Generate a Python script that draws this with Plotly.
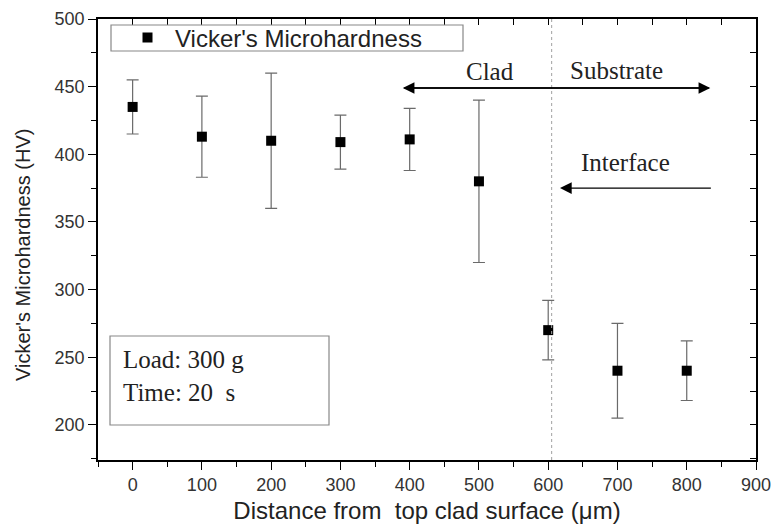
import plotly.graph_objects as go

distance = [0, 100, 200, 300, 400, 500, 600, 700, 800]
hardness = [435, 413, 410, 409, 411, 380, 270, 240, 240]
err_up = [20, 30, 50, 20, 23, 60, 22, 35, 22]
err_down = [20, 30, 50, 20, 23, 60, 22, 35, 22]
interface_x = 605
x_range = [-50, 900]
y_range = [174, 500]

L, R, T, B = 98, 16, 19, 64
W, H = 772, 524
PW, PH = W - L - R, H - T - B


def px(xp):
    return (xp - L) / PW


def py(yp):
    return (H - B - yp) / PH


fig = go.Figure()
fig.add_trace(go.Scatter(
    x=distance, y=hardness, mode="markers", name="Vicker's Microhardness",
    marker=dict(symbol="square", size=10, color="black"),
    error_y=dict(type="data", symmetric=False, array=err_up, arrayminus=err_down,
                 color="#6a6a6a", thickness=1.2, width=6),
))
# invisible trace to host the mirrored (inside-tick) top/right axes
fig.add_trace(go.Scatter(x=distance, y=hardness, xaxis="x2", yaxis="y2", mode="markers",
                         marker=dict(opacity=0), showlegend=False, hoverinfo="skip"))

fig.add_shape(type="line", x0=interface_x, x1=interface_x, y0=0, y1=1, yref="paper",
              line=dict(color="#a0a0a0", width=1, dash="dot"))

serif = dict(family="Liberation Serif", size=25, color="#222")
arrow = dict(showarrow=True, arrowhead=2, arrowsize=1.8, arrowwidth=1.3, arrowcolor="black",
             text="", xref="x", yref="y", axref="x", ayref="y")
# double arrow Clad / Substrate
fig.add_annotation(x=390, y=449, ax=834, ay=449, **arrow)
fig.add_annotation(x=834, y=449, ax=390, ay=449, **arrow)
fig.add_annotation(x=516, y=461, text="Clad", showarrow=False, font=serif)
fig.add_annotation(x=699, y=462, text="Substrate", showarrow=False, font=serif)
# interface arrow
fig.add_annotation(x=617, y=375, ax=837, ay=375, **arrow)
fig.add_annotation(x=711, y=394, text="Interface", showarrow=False, font=serif)

# Load/Time box
fig.add_shape(type="rect", xref="paper", yref="paper",
              x0=px(110), x1=px(329), y0=py(425), y1=py(336),
              line=dict(color="#888888", width=1.2), fillcolor="rgba(0,0,0,0)")
fig.add_annotation(xref="paper", yref="paper", x=px(121), y=py(376),
                   xanchor="left", yanchor="middle", align="left", showarrow=False,
                   text="Load: 300 g<br>Time: 20  s", font=serif)

# legend frame
fig.add_shape(type="rect", xref="paper", yref="paper",
              x0=px(111), x1=px(463), y0=py(51), y1=py(25),
              line=dict(color="#888888", width=1.2), fillcolor="rgba(0,0,0,0)")

sans = "Liberation Sans"
# y axis title
fig.add_annotation(xref="paper", yref="paper", x=px(23), y=py(255), textangle=-90,
                   xanchor="center", yanchor="middle", showarrow=False,
                   text="Vicker's Microhardness (HV)",
                   font=dict(family=sans, size=20, color="#222"))

common = dict(showline=True, linecolor="black", linewidth=1.5, showgrid=False, zeroline=False,
              automargin=False)

fig.update_layout(
    width=W, height=H, paper_bgcolor="white", plot_bgcolor="white",
    margin=dict(l=L, r=R, t=T, b=B),
    showlegend=True,
    legend=dict(x=px(120), y=py(38), xanchor="left", yanchor="middle",
                borderwidth=0, bgcolor="rgba(0,0,0,0)", itemwidth=45,
                font=dict(family=sans, size=24, color="#222")),
    xaxis=dict(range=x_range, dtick=100, tick0=0, ticks="outside", ticklen=8, tickwidth=1.2,
               tickcolor="black", mirror=True,
               minor=dict(dtick=50, ticks="outside", ticklen=5, tickcolor="black"),
               tickfont=dict(family=sans, size=18, color="#333"),
               title=dict(text="Distance from  top clad surface (μm)",
                          font=dict(family=sans, size=24, color="#222"), standoff=10),
               **common),
    yaxis=dict(range=y_range, dtick=50, tick0=200, ticks="outside", ticklen=8, tickwidth=1.2,
               tickcolor="black", mirror=True,
               minor=dict(dtick=25, ticks="outside", ticklen=5, tickcolor="black"),
               tickfont=dict(family=sans, size=18, color="#333"),
               **common),
    xaxis2=dict(range=x_range, overlaying="x", side="top", anchor="y2", dtick=50, tick0=0,
                ticks="inside", ticklen=6, tickwidth=1.2, tickcolor="black",
                showticklabels=False, **common),
    yaxis2=dict(range=y_range, overlaying="y", side="right", anchor="x2", dtick=25, tick0=200,
                ticks="inside", ticklen=6, tickwidth=1.2, tickcolor="black",
                showticklabels=False, **common),
)

fig.write_html("out.html")
